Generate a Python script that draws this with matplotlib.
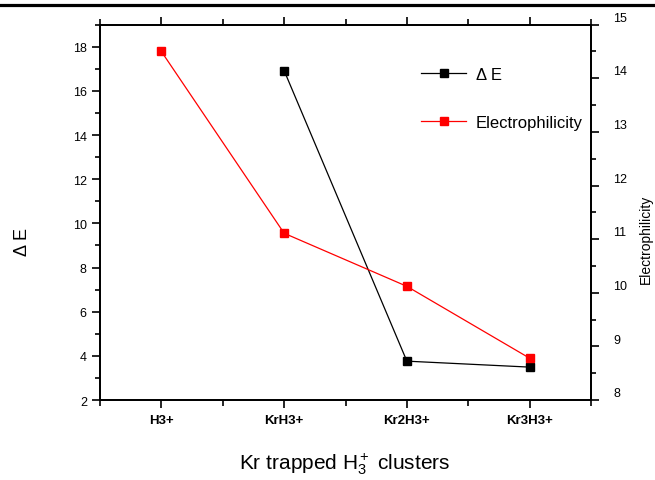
import matplotlib
matplotlib.use("Agg")
import matplotlib.pyplot as plt
import matplotlib.transforms as mtransforms
from matplotlib.lines import Line2D
from matplotlib.ticker import MultipleLocator

plt.rcParams["font.family"] = ["Liberation Sans", "DejaVu Sans"]
plt.rcParams["mathtext.fontset"] = "custom"
plt.rcParams["mathtext.rm"] = "Liberation Sans"
plt.rcParams["mathtext.it"] = "Liberation Sans"

clusters = ["H3+", "KrH3+", "Kr2H3+", "Kr3H3+"]
delta_e_x = [1, 2, 3]
delta_e = [16.92, 3.76, 3.49]
electrophilicity = [14.50, 11.11, 10.12, 8.78]

fig = plt.figure(figsize=(6.55, 4.81), dpi=100)
ax = fig.add_axes([0.1527, 0.1663, 0.7496, 0.7803])
ax2 = ax.twinx()

ax.plot(delta_e_x, delta_e, color="black", lw=0.9, marker="s", ms=5.5, label="\u0394 E")
ax2.plot(range(len(clusters)), electrophilicity, color="red", lw=0.9, marker="s", ms=5.5,
         label="Electrophilicity")

ax.set_xlim(-0.5, 3.5)
ax.set_ylim(2, 19)
ax2.set_ylim(8, 15)
ax.set_xticks(range(len(clusters)))
ax.set_xticklabels(clusters, fontweight="bold", fontsize=9.5)
ax.xaxis.set_minor_locator(MultipleLocator(0.5))
ax.yaxis.set_major_locator(MultipleLocator(2))
ax.yaxis.set_minor_locator(MultipleLocator(1))
ax2.yaxis.set_major_locator(MultipleLocator(1))
ax2.yaxis.set_minor_locator(MultipleLocator(0.5))

for a in (ax, ax2):
    for s in a.spines.values():
        s.set_linewidth(1.3)
ax.tick_params(axis="y", which="both", direction="out", labelsize=9, width=1.2)
ax.tick_params(axis="y", which="major", length=6)
ax.tick_params(axis="y", which="minor", length=3.5)
ax.tick_params(axis="x", which="both", direction="out", top=True, width=1.2, pad=4)
ax.tick_params(axis="x", which="major", length=6)
ax.tick_params(axis="x", which="minor", length=4)
ax2.tick_params(axis="y", which="both", direction="out", labelsize=9, width=1.2, pad=10)
ax2.tick_params(axis="y", which="major", length=6)
ax2.tick_params(axis="y", which="minor", length=3.5)

# right tick labels sit a little above their ticks
offset = mtransforms.ScaledTranslation(0, 6 / 72, fig.dpi_scale_trans)
for lab in ax2.get_yticklabels():
    lab.set_transform(lab.get_transform() + offset)

ax.set_ylabel("\u0394 E", fontsize=13)
ax.yaxis.set_label_coords(-0.141, 0.424)
ax2.set_ylabel("Electrophilicity", fontsize=10)
ax2.yaxis.set_label_coords(1.098, 0.43)
ax.set_xlabel("Kr trapped H$_3^+$ clusters", fontsize=15)
ax.xaxis.set_label_coords(0.499, -0.134)

handles = [Line2D([], [], color="black", lw=0.9, marker="s", ms=5.5),
           Line2D([], [], color="red", lw=0.9, marker="s", ms=5.5)]
fig.legend(handles, ["\u0394 E", "Electrophilicity"], loc="upper left",
           bbox_to_anchor=(406 / 655, 1 - 53 / 481), frameon=False, fontsize=12,
           handlelength=2.7, labelspacing=2.0, handletextpad=0.6)

# thick rule across the top of the figure
fig.add_artist(Line2D([0, 1], [0.9875, 0.9875], color="black", lw=2.3, transform=fig.transFigure))

fig.savefig("out.png", dpi=100)
